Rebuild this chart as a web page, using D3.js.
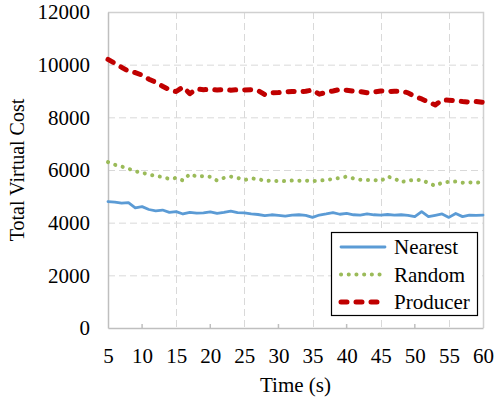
<!DOCTYPE html>
<html>
<head>
<meta charset="utf-8">
<script src="https://cdn.jsdelivr.net/npm/d3@7"></script>
<style>
  html, body { margin: 0; padding: 0; background: #fff; }
  svg { display: block; }
  svg text { font-family: "Liberation Serif", "DejaVu Serif", serif; }
</style>
</head>
<body>
<svg id="chart" width="495" height="398"></svg>
<script>
const times = d3.range(5, 61);

const nearest = [4800, 4780, 4740, 4760, 4560, 4610, 4500, 4450, 4480, 4390,
  4420, 4330, 4390, 4360, 4370, 4410, 4350, 4390, 4440, 4380,
  4370, 4330, 4310, 4270, 4300, 4280, 4250, 4290, 4300, 4280,
  4200, 4290, 4330, 4380, 4320, 4350, 4300, 4290, 4330, 4300,
  4290, 4310, 4290, 4300, 4280, 4230, 4420, 4230, 4280, 4330,
  4200, 4350, 4230, 4290, 4280, 4290];

const random = [6300, 6200, 6130, 6050, 5950, 5900, 5820, 5780, 5730, 5660,
  5700, 5600, 5850, 5750, 5770, 5740, 5600, 5700, 5750, 5700,
  5620, 5680, 5660, 5580, 5600, 5570, 5580, 5600, 5590, 5600,
  5580, 5600, 5620, 5660, 5700, 5750, 5680, 5630, 5620, 5620,
  5580, 5750, 5680, 5530, 5620, 5600, 5630, 5500, 5400, 5520,
  5550, 5560, 5520, 5530, 5520, 5540];

const producer = [10200, 10050, 9900, 9750, 9700, 9600, 9450, 9330, 9180, 9050,
  8980, 9150, 8900, 9080, 9050, 9060, 9040, 9060, 9030, 9050,
  9040, 9050, 9020, 8860, 8930, 8940, 8960, 8980, 8970, 8990,
  9040, 8880, 8950, 9000, 9060, 9030, 8990, 8980, 8930, 8960,
  9000, 8980, 8990, 9000, 8930, 8790, 8700, 8580, 8470, 8660,
  8650, 8630, 8600, 8580, 8600, 8570];

const xTickLabels = [5, 10, 15, 20, 25, 30, 35, 40, 45, 50, 55, 60];
const xMinorTicks = [10, 20, 30, 40, 50];
const xGrid = [15, 25, 35, 45, 55];
const yTicks = [0, 2000, 4000, 6000, 8000, 10000, 12000];

const series = [
  { name: "Nearest", values: nearest, color: "#5b9bd5", width: 2.8, dash: null, cap: "round" },
  { name: "Random", values: random, color: "#9bbb59", width: 4, dash: "0.1,7.6", cap: "round" },
  { name: "Producer", values: producer, color: "#c00000", width: 5, dash: "6,9", cap: "round" }
];

const FONT = '"Liberation Serif", "DejaVu Serif", serif';
const svg = d3.select("#chart");
const m = { left: 108, right: 483, top: 12, bottom: 328 };

const x = d3.scaleLinear().domain([5, 60]).range([m.left, m.right]);
const y = d3.scaleLinear().domain([0, 12000]).range([m.bottom, m.top]);

const grid = svg.append("g");
grid.selectAll(".hg").data(yTicks.filter(d => d > 0 && d < 12000)).join("line")
  .attr("x1", m.left).attr("x2", m.right)
  .attr("y1", d => y(d) + 0.5).attr("y2", d => y(d) + 0.5)
  .attr("stroke", "#d9d9d9").attr("stroke-dasharray", "7,4");
grid.selectAll(".vg").data(xGrid).join("line")
  .attr("x1", d => Math.round(x(d)) + 0.5).attr("x2", d => Math.round(x(d)) + 0.5)
  .attr("y1", m.top).attr("y2", m.bottom)
  .attr("stroke", "#d9d9d9").attr("stroke-dasharray", "7,4");

// plot frame (top and right)
svg.append("path")
  .attr("d", `M${m.left},${m.top + 0.5}H${m.right + 0.5}V${m.bottom}`)
  .attr("fill", "none").attr("stroke", "#d0d0d0").attr("stroke-width", 1.5);

// axes
const yAxis = svg.append("g").attr("transform", `translate(${m.left},0)`)
  .call(d3.axisLeft(y).tickValues(yTicks).tickSize(0).tickPadding(18).tickFormat(d3.format("d")));
const xAxis = svg.append("g").attr("transform", `translate(0,${m.bottom})`)
  .call(d3.axisBottom(x).tickValues(xTickLabels).tickSize(0).tickPadding(20).tickFormat(d3.format("d")));
[yAxis, xAxis].forEach(a => {
  a.attr("font-family", null).attr("font-size", null);
  a.select(".domain").attr("stroke", "#bfbfbf").attr("stroke-width", 1.5);
  a.selectAll("text").style("font-size", "21px").style("font-family", FONT).attr("fill", "#000");
});
xAxis.selectAll(".minor").data(xMinorTicks).join("line").attr("class", "minor")
  .attr("x1", d => x(d)).attr("x2", d => x(d))
  .attr("y1", 0).attr("y2", -4)
  .attr("stroke", "#bfbfbf").attr("stroke-width", 1.5);

// lines
const line = d3.line().x((d, i) => x(times[i])).y(d => y(d));
svg.append("g").selectAll("path").data(series).join("path")
  .attr("d", s => line(s.values))
  .attr("fill", "none")
  .attr("stroke", s => s.color)
  .attr("stroke-width", s => s.width)
  .attr("stroke-linecap", s => s.cap)
  .attr("stroke-linejoin", "round")
  .attr("stroke-dasharray", s => s.dash);

// axis titles
svg.append("text")
  .attr("x", (m.left + m.right) / 2).attr("y", 392)
  .attr("text-anchor", "middle").style("font-size", "21px").text("Time (s)");
svg.append("text")
  .attr("transform", `translate(24,${(m.top + m.bottom) / 2}) rotate(-90)`)
  .attr("text-anchor", "middle").style("font-size", "20px").text("Total Virtual Cost");

// legend
const lg = svg.append("g").attr("transform", "translate(331,232)");
lg.append("rect").attr("x", 0.5).attr("y", 0.5).attr("width", 146).attr("height", 83)
  .attr("fill", "#fff").attr("stroke", "#000").attr("stroke-width", 1.2);
const rows = lg.selectAll(".row").data(series).join("g")
  .attr("transform", (d, i) => `translate(0,${15 + i * 27.5})`);
rows.append("line")
  .attr("x1", 10).attr("x2", 54).attr("y1", 0).attr("y2", 0)
  .attr("stroke", s => s.color)
  .attr("stroke-width", s => s.width)
  .attr("stroke-linecap", s => s.cap)
  .attr("stroke-dasharray", s => s.dash);
rows.append("text")
  .attr("x", 63).attr("y", 0).attr("dy", "0.35em")
  .style("font-size", "21px").text(s => s.name);
</script>
</body>
</html>
